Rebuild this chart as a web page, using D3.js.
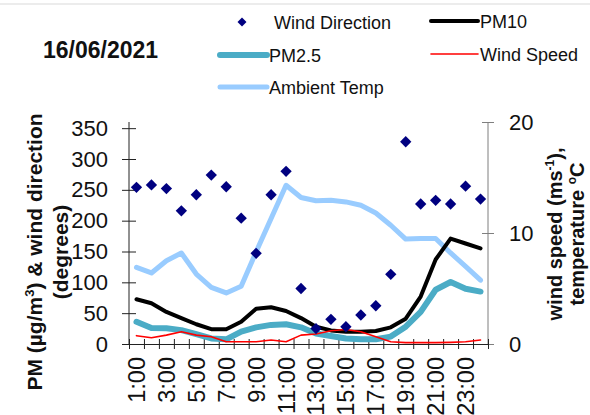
<!DOCTYPE html>
<html>
<head>
<meta charset="utf-8">
<script src="https://cdn.jsdelivr.net/npm/d3@7"></script>
<style>
  html, body { margin: 0; padding: 0; background: #fff; }
  svg { display: block; font-family: "Liberation Sans", Arial, sans-serif; }
</style>
</head>
<body>
<svg id="chart" width="590" height="415"></svg>
<script>
// Hourly observations, 16/06/2021
const hours = ["1:00","2:00","3:00","4:00","5:00","6:00","7:00","8:00","9:00","10:00","11:00","12:00",
               "13:00","14:00","15:00","16:00","17:00","18:00","19:00","20:00","21:00","22:00","23:00","24:00"];
const hourLabels = ["1:00","3:00","5:00","7:00","9:00","11:00","13:00","15:00","17:00","19:00","21:00","23:00"];

// primary axis: PM (µg/m3) and wind direction (degrees)
const windDirection = [254, 258, 252, 216, 242, 274, 255, 204, 147, 242, 280, 90,
                       25, 40, 28, 47, 62, 113, 328, 227, 233, 227, 256, 235];
const pm10 = [72.5, 66, 52, 42, 32, 24, 24, 36, 57, 59.5, 53.5, 42,
              28, 22, 20, 20, 21, 27, 41, 77, 137, 171, 163, 155];
const pm25 = [36, 26, 25.5, 22.5, 16, 9, 7.6, 20, 27, 31, 32, 27,
              17, 13, 9, 7.6, 7.6, 12, 28, 52, 88, 100.5, 89.5, 85];

// secondary axis: wind speed (m/s) and ambient temperature (°C)
const windSpeed = [0.75, 0.57, 0.8, 1.1, 0.8, 0.66, 0.2, 0.2, 0.2, 0.36, 0.2, 0.8,
                   0.9, 1.2, 1.3, 1.1, 0.66, 0.2, 0.12, 0.12, 0.12, 0.15, 0.2, 0.36];
const ambientTemp = [6.9, 6.4, 7.5, 8.2, 6.3, 5.1, 4.6, 5.2, 8.3, 11.3, 14.3, 13.2,
                     12.9, 12.95, 12.8, 12.5, 11.8, 10.7, 9.45, 9.5, 9.5, 8.2, 7.0, 5.75];

const leftTicks = [0, 50, 100, 150, 200, 250, 300, 350];
const rightTicks = [0, 10, 20];

const svg = d3.select("#chart");
const plot = { left: 129, right: 488, top: 122, bottom: 344 };

const x = d3.scaleBand().domain(hours).range([plot.left, plot.right]).padding(0);
const xEdge = d3.scaleLinear().domain([0, hours.length]).range([plot.left, plot.right]);
const yL = d3.scaleLinear().domain([0, 360]).range([plot.bottom, plot.top]);
const yR = d3.scaleLinear().domain([0, 20]).range([plot.bottom, plot.top]);
const cx = (d, i) => x(hours[i]) + x.bandwidth() / 2;

// thin frame line along the top
svg.append("line").attr("x1", 0).attr("x2", 590).attr("y1", 4).attr("y2", 4)
  .attr("stroke", "#d9d9d9").attr("stroke-width", 1);

// title
svg.append("text").attr("x", 43).attr("y", 58)
  .attr("font-size", 23).attr("font-weight", "bold").attr("fill", "#111")
  .text("16/06/2021");

// ---- axes ----
const axisLeft = svg.append("g").attr("transform", `translate(${plot.left},0)`)
  .call(d3.axisLeft(yL).tickValues(leftTicks).tickSizeOuter(0).tickSizeInner(7).tickPadding(14));
axisLeft.select(".domain").attr("d", `M0,${plot.top}V${plot.bottom}`).attr("stroke", "#222");
axisLeft.selectAll(".tick line").attr("x1", -7).attr("x2", 7).attr("stroke", "#222");
axisLeft.selectAll(".tick text").attr("font-size", 22).attr("fill", "#111")
  .attr("font-family", "Liberation Sans, Arial, sans-serif");

const axisRight = svg.append("g").attr("transform", `translate(${plot.right},0)`)
  .call(d3.axisRight(yR).tickValues(rightTicks).tickSizeOuter(0).tickSizeInner(6).tickPadding(15));
axisRight.select(".domain").attr("d", `M0,${plot.top}V${plot.bottom}`).attr("stroke", "#7f7f7f");
axisRight.selectAll(".tick line").attr("x1", -6).attr("x2", 6).attr("stroke", "#7f7f7f");
axisRight.selectAll(".tick text").attr("font-size", 22).attr("fill", "#111")
  .attr("font-family", "Liberation Sans, Arial, sans-serif");

const axisBottomTicks = svg.append("g").attr("transform", `translate(0,${plot.bottom})`)
  .call(d3.axisBottom(xEdge).tickValues(d3.range(hours.length + 1)).tickFormat("").tickSizeOuter(0).tickSizeInner(5));
axisBottomTicks.select(".domain").attr("stroke", "#222");
axisBottomTicks.selectAll(".tick line").attr("y1", -5).attr("y2", 5).attr("stroke", "#222");

const axisBottomLabels = svg.append("g").attr("transform", `translate(0,${plot.bottom})`)
  .call(d3.axisBottom(x).tickValues(hourLabels).tickSize(0));
axisBottomLabels.select(".domain").remove();
axisBottomLabels.selectAll(".tick text")
  .attr("font-size", 23.5).attr("fill", "#111")
  .attr("font-family", "Liberation Sans, Arial, sans-serif")
  .attr("text-anchor", "end")
  .attr("transform", "rotate(-90)")
  .attr("x", -13).attr("y", 0).attr("dy", "0.36em");

// ---- axis titles ----
const leftTitle = svg.append("g").attr("transform", "translate(0,252) rotate(-90)")
  .attr("font-size", 21).attr("font-weight", "bold").attr("fill", "#111").attr("text-anchor", "middle");
const lt1 = leftTitle.append("text").attr("x", 0).attr("y", 42);
lt1.append("tspan").text("PM (µg/m");
lt1.append("tspan").attr("font-size", 13).attr("dy", -8).text("3");
lt1.append("tspan").attr("dy", 8).text(") & wind direction");
leftTitle.append("text").attr("x", 0).attr("y", 68).text("(degrees)");

const rightTitle = svg.append("g").attr("transform", "translate(0,234) rotate(-90)")
  .attr("font-size", 20).attr("font-weight", "bold").attr("fill", "#111").attr("text-anchor", "middle");
const rt1 = rightTitle.append("text").attr("x", 0).attr("y", 562);
rt1.append("tspan").text("wind speed (ms");
rt1.append("tspan").attr("font-size", 12).attr("dy", -8).text("-1");
rt1.append("tspan").attr("dy", 8).text("),");
const rt2 = rightTitle.append("text").attr("x", 0).attr("y", 584);
rt2.append("tspan").text("temperature ");
rt2.append("tspan").attr("font-size", 12).attr("dy", -8).text("o");
rt2.append("tspan").attr("dy", 8).text("C");

// ---- series ----
const colors = { temp: "#99ccff", pm25: "#4bacc6", pm10: "#000000", wind: "#ff0000", dir: "#000080" };

function drawLine(values, scale, color, width) {
  svg.append("path")
    .datum(values)
    .attr("fill", "none")
    .attr("stroke", color)
    .attr("stroke-width", width)
    .attr("stroke-linejoin", "round")
    .attr("stroke-linecap", "round")
    .attr("d", d3.line().x(cx).y(d => scale(d)));
}

drawLine(ambientTemp, yR, colors.temp, 5);
drawLine(pm25, yL, colors.pm25, 6);
drawLine(pm10, yL, colors.pm10, 4);
drawLine(windSpeed, yR, colors.wind, 1.6);

// wind direction markers: squares turned 45° into diamonds
svg.append("g").selectAll("path")
  .data(windDirection)
  .join("path")
  .attr("transform", (d, i) => `translate(${cx(d, i)},${yL(d)}) rotate(45)`)
  .attr("d", d3.symbol().type(d3.symbolSquare).size(64)())
  .attr("fill", colors.dir);

// ---- legend ----
const legendNames = ["Wind Direction", "PM10", "PM2.5", "Wind Speed", "Ambient Temp"];
const legendKeys = ["dir", "pm10", "pm25", "wind", "temp"];
const legendWidths = { pm10: 4, pm25: 6, wind: 1.6, temp: 5 };
const legendPos = [[220, 22], [431, 21], [220, 55], [431, 54], [220, 87]];

const legend = svg.append("g");
legendNames.forEach((name, i) => {
  const [lx, ly] = legendPos[i];
  const key = legendKeys[i];
  if (key === "dir") {
    legend.append("path")
      .attr("transform", `translate(${lx + 22},${ly}) rotate(45)`)
      .attr("d", d3.symbol().type(d3.symbolSquare).size(40)())
      .attr("fill", colors.dir);
  } else {
    legend.append("line")
      .attr("x1", lx).attr("x2", lx + 47).attr("y1", ly).attr("y2", ly)
      .attr("stroke", colors[key]).attr("stroke-width", legendWidths[key])
      .attr("stroke-linecap", "round");
  }
  legend.append("text")
    .attr("x", key === "dir" ? lx + 54 : lx + 49)
    .attr("y", ly + 7)
    .attr("font-size", 18).attr("fill", "#111")
    .text(name);
});
</script>
</body>
</html>
